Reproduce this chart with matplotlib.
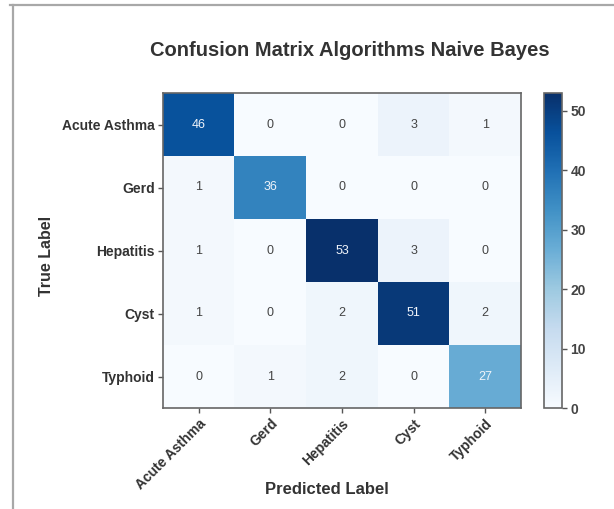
import matplotlib
matplotlib.use("Agg")
import matplotlib.pyplot as plt
from matplotlib.lines import Line2D
import numpy as np

plt.rcParams['font.family'] = ['Liberation Sans', 'DejaVu Sans']

classes = ["Acute Asthma", "Gerd", "Hepatitis", "Cyst", "Typhoid"]
cm = np.array([
    [46, 0, 0, 3, 1],
    [1, 36, 0, 0, 0],
    [1, 0, 53, 3, 0],
    [1, 0, 2, 51, 2],
    [0, 1, 2, 0, 27],
])
cbar_ticks = [0, 10, 20, 30, 40, 50]

W, H = 614, 509
fig = plt.figure(figsize=(W / 100, H / 100), dpi=100)

# screenshot frame (top and left edges)
fig.add_artist(Line2D([10 / W, 1], [1 - 5 / H, 1 - 5 / H], color="#a8a8a8", lw=1.6))
fig.add_artist(Line2D([12.5 / W, 12.5 / W], [0, 1 - 5 / H], color="#a8a8a8", lw=1.6))

ax = fig.add_axes([163 / W, 1 - 408 / H, 358 / W, 315 / H])
cax = fig.add_axes([544 / W, 1 - 408 / H, 18 / W, 315 / H])

im = ax.imshow(cm, cmap="Blues", vmin=0, vmax=cm.max(), aspect="auto", interpolation="nearest")

thresh = cm.max() / 2
for i in range(cm.shape[0]):
    for j in range(cm.shape[1]):
        ax.text(j, i, str(cm[i, j]), ha="center", va="center", fontsize=9,
                color="#f0f4fa" if cm[i, j] > thresh else "#444444")

ax.set_xticks(range(len(classes)))
ax.set_yticks(range(len(classes)))
ax.set_xticklabels(classes, rotation=45, ha="right", rotation_mode="anchor",
                   fontsize=10, fontweight="bold", color="#333333")
ax.set_yticklabels(classes, fontsize=10, fontweight="bold", color="#333333")
ax.tick_params(length=3.5, width=1, color="#555555", pad=2.5)
for s in ax.spines.values():
    s.set_color("#666666")
    s.set_linewidth(1.2)

ax.set_xlabel("Predicted Label", fontsize=12, fontweight="bold", color="#333333")
ax.xaxis.set_label_coords((327 - 163) / 358, -(482 - 408) / 315)
ax.set_ylabel("True Label", fontsize=11.5, fontweight="bold", color="#333333")
ax.yaxis.set_label_coords(-(163 - 54) / 358, (408 - 256) / 315)

cb = fig.colorbar(im, cax=cax, ticks=cbar_ticks)
cb.outline.set_edgecolor("#666666")
cb.outline.set_linewidth(1.2)
cax.tick_params(length=3.5, width=1, color="#555555", labelsize=10, labelcolor="#444444", pad=2.5)
for t in cax.get_yticklabels():
    t.set_fontweight("bold")

fig.text(350 / W, 1 - 50 / H, "Confusion Matrix Algorithms Naive Bayes", ha="center", va="center",
         fontsize=14.5, fontweight="bold", color="#333333")

fig.savefig("out.png", dpi=100)
